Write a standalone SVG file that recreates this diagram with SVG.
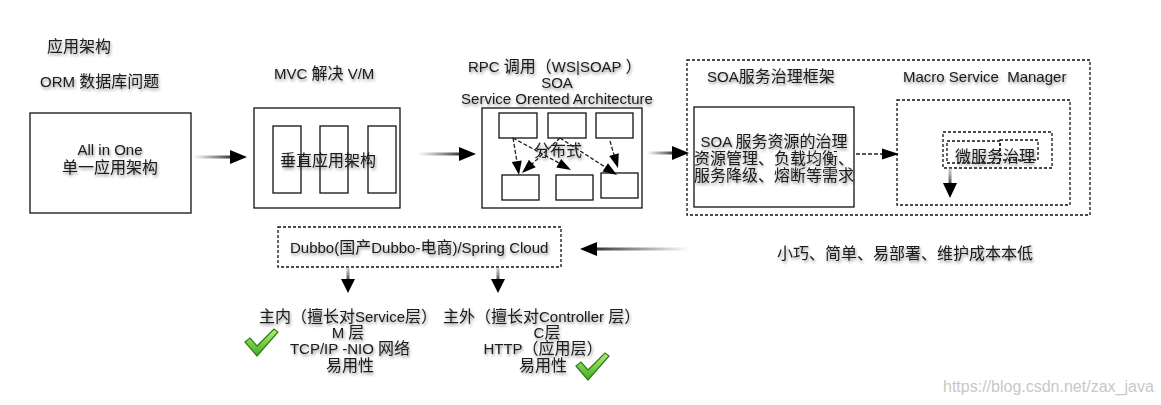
<svg xmlns="http://www.w3.org/2000/svg" width="1161" height="405" viewBox="0 0 1161 405">
<style>
text{font-family:"Liberation Sans","Noto Sans CJK SC",sans-serif;font-size:15px;fill:#1a1a1a;filter:url(#glow)}
.c{font-family:"Noto Sans CJK SC",sans-serif;font-size:16px}
.m{text-anchor:middle}
.box{fill:#fff;stroke:#111;stroke-width:1.3}
.dbox{fill:none;stroke:#111;stroke-width:1.3;stroke-dasharray:3 2}
.dl{fill:none;stroke:#222;stroke-width:1.3;stroke-dasharray:4 2}
.head{fill:#000}
.wm{fill:#c8c8c8;font-size:16px;filter:none}
</style>
<defs>
<filter id="glow" x="-10%" y="-40%" width="120%" height="180%">
<feGaussianBlur in="SourceAlpha" stdDeviation="1.6" result="b"/>
<feOffset in="b" dx="1" dy="1.5" result="o"/>
<feComponentTransfer in="o" result="s"><feFuncA type="linear" slope="0.45"/></feComponentTransfer>
<feMerge><feMergeNode in="s"/><feMergeNode in="SourceGraphic"/></feMerge>
</filter>
<linearGradient id="gr" x1="0" y1="0" x2="1" y2="0">
<stop offset="0" stop-color="#555" stop-opacity="0"/>
<stop offset="1" stop-color="#333"/>
</linearGradient>
<linearGradient id="gl" x1="1" y1="0" x2="0" y2="0">
<stop offset="0" stop-color="#555" stop-opacity="0"/>
<stop offset="1" stop-color="#333"/>
</linearGradient>
<linearGradient id="gd" x1="0" y1="0" x2="0" y2="1">
<stop offset="0" stop-color="#999" stop-opacity="0.4"/>
<stop offset="1" stop-color="#444"/>
</linearGradient>
<linearGradient id="green" x1="0" y1="0" x2="0" y2="1">
<stop offset="0" stop-color="#b6ef7a"/>
<stop offset="1" stop-color="#3fae1d"/>
</linearGradient>
<path id="check" d="M0,13 L5,9 L12,17 L29,0 L33,3 L12,27 Z"/>
</defs>
<rect width="1161" height="405" fill="#fff"/>

<g id="titles">
<text x="47" y="52" class="c">应用架构</text>
<text x="40" y="87">ORM <tspan class="c">数据库问题</tspan></text>
<text x="274" y="79">MVC <tspan class="c">解决</tspan> V/M</text>
<text x="468" y="72">RPC <tspan class="c">调用（</tspan>WS|SOAP <tspan class="c">）</tspan></text>
<text x="557" y="88" class="m">SOA</text>
<text x="557" y="104" class="m">Service Orented Architecture</text>
</g>

<g id="node-allinone">
<rect class="box" x="30" y="113" width="161" height="100"/>
<text x="110" y="155" class="m">All in One</text>
<text x="110" y="173" class="m c">单一应用架构</text>
</g>

<g id="node-mvc">
<rect class="box" x="254" y="108" width="146" height="100"/>
<rect class="box" x="273" y="126" width="28" height="67"/>
<rect class="box" x="320" y="126" width="28" height="67"/>
<rect class="box" x="368" y="126" width="28" height="67"/>
<text x="328" y="166" class="m c">垂直应用架构</text>
</g>

<g id="node-rpc">
<rect class="box" x="482" y="108" width="160" height="100"/>
<rect class="box" x="499" y="113" width="38" height="25"/>
<rect class="box" x="548" y="113" width="38" height="25"/>
<rect class="box" x="596" y="113" width="37" height="25"/>
<rect class="box" x="502" y="175" width="37" height="25"/>
<rect class="box" x="556" y="175" width="37" height="25"/>
<rect class="box" x="601" y="173" width="37" height="25"/>
<text x="558" y="156" class="m c">分布式</text>
</g>

<g id="node-soa-framework">
<rect class="dbox" x="687" y="60" width="403" height="155"/>
<text x="707" y="82">SOA<tspan class="c">服务治理框架</tspan></text>
<text x="903" y="82" xml:space="preserve">Macro Service  Manager</text>
</g>

<g id="node-soa-governance">
<rect class="box" x="694" y="107" width="160" height="100"/>
<text x="774" y="147" class="m">SOA <tspan class="c">服务资源的治理</tspan></text>
<text x="774" y="164" class="m c">资源管理、负载均衡、</text>
<text x="774" y="181" class="m c">服务降级、熔断等需求</text>
</g>

<g id="node-macro">
<rect class="dbox" x="897" y="100" width="173" height="105"/>
<rect class="dbox" x="943" y="132" width="109" height="36"/>
<rect class="dbox" x="947" y="141" width="53" height="22"/>
<rect class="dbox" x="1000" y="140" width="38" height="20"/>
<text x="995" y="162" class="m c">微服务治理</text>
</g>

<g id="node-dubbo">
<rect class="dbox" x="278" y="227" width="283" height="40"/>
<text x="290" y="253">Dubbo(<tspan class="c">国产</tspan>Dubbo-<tspan class="c">电商</tspan>)/Spring Cloud</text>
</g>

<g id="node-features">
<text x="777" y="259" class="c">小巧、简单、易部署、维护成本本低</text>
</g>

<g id="node-dubbo-side">
<text x="259" y="322"><tspan class="c">主内（擅长对</tspan>Service<tspan class="c">层）</tspan></text>
<text x="348" y="338" class="m">M <tspan class="c">层</tspan></text>
<text x="350" y="354" class="m">TCP/IP -NIO <tspan class="c">网络</tspan></text>
<text x="350" y="371" class="m c">易用性</text>
<use href="#check" x="245" y="329" fill="url(#green)" stroke="#2f7d16" stroke-width="1.2"/>
</g>

<g id="node-springcloud-side">
<text x="443" y="322"><tspan class="c">主外（擅长对</tspan>Controller <tspan class="c">层）</tspan></text>
<text x="547" y="338" class="m">C<tspan class="c">层</tspan></text>
<text x="543" y="354" class="m">HTTP<tspan class="c">（应用层）</tspan></text>
<text x="543" y="371" class="m c">易用性</text>
<use href="#check" x="576" y="353" fill="url(#green)" stroke="#2f7d16" stroke-width="1.2"/>
</g>

<g id="connectors">
<rect x="193" y="155.5" width="39" height="3" fill="url(#gr)"/>
<path class="head" d="M230,150 L247,157 L230,164 Z"/>
<rect x="418" y="152.5" width="43" height="3" fill="url(#gr)"/>
<path class="head" d="M459,147 L476,154 L459,161 Z"/>
<rect x="647" y="151.5" width="27" height="3" fill="url(#gr)"/>
<path class="head" d="M672,146 L689,153 L672,160 Z"/>
<line class="dl" x1="856" y1="154" x2="884" y2="154"/>
<path class="head" d="M882,148.5 L899,154 L882,159.5 Z"/>
<rect x="595" y="247.5" width="95" height="3" fill="url(#gl)"/>
<path class="head" d="M597,242 L580,249 L597,256 Z"/>
<rect x="346.5" y="267" width="3" height="13" fill="url(#gd)"/>
<path class="head" d="M341,279 L348,293 L355,279 Z"/>
<rect x="496.5" y="267" width="3" height="13" fill="url(#gd)"/>
<path class="head" d="M491,279 L498,293 L505,279 Z"/>
<rect x="948.5" y="168" width="3" height="16" fill="url(#gd)"/>
<path class="head" d="M943,183 L950,198 L957,183 Z"/>
<line class="dl" x1="513" y1="138" x2="517" y2="162"/>
<path class="head" d="M521.7,160.4 L519,175 L511.8,162 Z"/>
<line class="dl" x1="560" y1="138" x2="532" y2="164"/>
<path class="head" d="M535.7,167.2 L522,173 L528.9,159.8 Z"/>
<line class="dl" x1="513" y1="138" x2="559" y2="163"/>
<path class="head" d="M556.3,167.6 L571,170 L561.2,158.9 Z"/>
<line class="dl" x1="560" y1="138" x2="605" y2="167"/>
<path class="head" d="M602.5,171.6 L617,175 L608,163.2 Z"/>
<line class="dl" x1="610" y1="141" x2="614" y2="155"/>
<path class="head" d="M618.8,153.2 L618,168 L609.2,156 Z"/>
</g>

<text x="943" y="392" class="wm">https://blog.csdn.net/zax_java</text>
</svg>
